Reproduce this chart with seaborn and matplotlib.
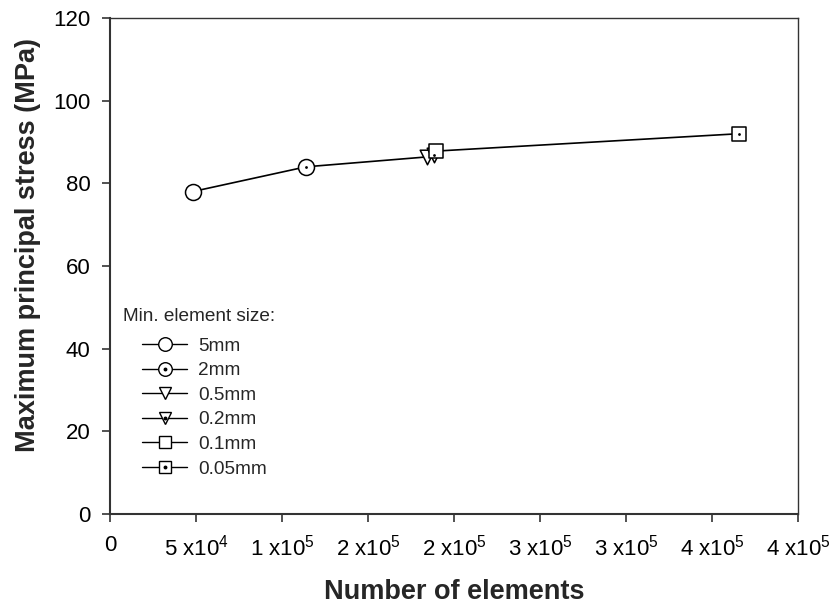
import matplotlib
matplotlib.use("Agg")
import matplotlib.pyplot as plt
from matplotlib.lines import Line2D
import seaborn as sns
import pandas as pd

# ---- data ----
sizes = ['5mm', '2mm', '0.5mm', '0.2mm', '0.1mm', '0.05mm']
n_elements = [48000, 114000, 184500, 188500, 189500, 365500]
max_stress = [78, 84, 86.4, 86.8, 87.8, 92]
markers = ['o', 'o', 'v', 'v', 's', 's']
dotted = [False, True, False, True, False, True]

x_ticks = [0, 50000, 100000, 150000, 200000, 250000, 300000, 350000, 400000]
x_tick_labels = ['0', r'5 x10$^{4}$', r'1 x10$^{5}$', r'2 x10$^{5}$', r'2 x10$^{5}$',
                 r'3 x10$^{5}$', r'3 x10$^{5}$', r'4 x10$^{5}$', r'4 x10$^{5}$']
y_ticks = [0, 20, 40, 60, 80, 100, 120]

df = pd.DataFrame({'size': sizes, 'n': n_elements, 'stress': max_stress})

sns.set_theme(style='white')
plt.rcParams['font.family'] = ['Liberation Sans', 'DejaVu Sans']
plt.rcParams['mathtext.fontset'] = 'custom'
plt.rcParams['mathtext.rm'] = 'Liberation Sans'
plt.rcParams['mathtext.it'] = 'Liberation Sans'
plt.rcParams['mathtext.bf'] = 'Liberation Sans:bold'

W, H = 831, 607
fig = plt.figure(figsize=(W / 100, H / 100), dpi=100)
ax = fig.add_axes([110 / W, 1 - 514 / H, (798 - 110) / W, (514 - 18) / H])

# connecting line
sns.lineplot(data=df, x='n', y='stress', sort=False, color='black', lw=1.2,
             ax=ax, zorder=2, estimator=None)

ms = {'o': 11.5, 'v': 10.5, 's': 10.0}
handles = []
for i, row in df.iterrows():
    m = markers[i]
    sns.scatterplot(x=[row['n']], y=[row['stress']], marker=m, s=ms[m] ** 2,
                    facecolor='white', edgecolor='black', linewidth=1.1,
                    ax=ax, zorder=3, legend=False)
    h_main = Line2D([], [], color='black', lw=1.0, marker=m, markersize=ms[m] * 0.85,
                    markerfacecolor='white', markeredgecolor='black', markeredgewidth=1.0)
    if dotted[i]:
        sns.scatterplot(x=[row['n']], y=[row['stress']], marker='o', s=4,
                        color='black', linewidth=0, ax=ax, zorder=4, legend=False)
        h_dot = Line2D([], [], ls='none', marker='o', markersize=1.8, color='black')
        handles.append((h_main, h_dot))
    else:
        handles.append(h_main)

ax.set_xlim(0, 400000)
ax.set_ylim(0, 120)
ax.set_xticks(x_ticks)
ax.set_xticklabels(x_tick_labels)
ax.set_yticks(y_ticks)
ax.tick_params(axis='both', which='major', direction='out', length=6, width=1.2,
               color='#333333', labelsize=16, labelcolor='black',
               bottom=True, left=True)
ax.tick_params(axis='y', pad=8)
ax.tick_params(axis='x', pad=9)

for side in ['left', 'bottom']:
    ax.spines[side].set_linewidth(1.5)
    ax.spines[side].set_color('#333333')
for side in ['top', 'right']:
    ax.spines[side].set_linewidth(1.0)
    ax.spines[side].set_color('#333333')
    ax.spines[side].set_visible(True)

ax.set_xlabel('Number of elements', fontsize=19.5, fontweight='bold')
ax.set_ylabel('Maximum principal stress (MPa)', fontsize=19.5, fontweight='bold')
ax.xaxis.set_label_coords(454 / W, 1 - 599 / H, transform=fig.transFigure)
ax.xaxis.label.set_va('baseline')
ax.yaxis.set_label_coords(35 / W, 1 - 245 / H, transform=fig.transFigure)
ax.yaxis.label.set_va('baseline')

# legend title and entries
fig.text(123 / W, 1 - 317 / H, 'Min. element size:', fontsize=13.7, va='center', ha='left')
leg = ax.legend(handles, sizes, loc='upper left',
                bbox_to_anchor=(142 / W, 1 - 337.5 / H), bbox_transform=fig.transFigure,
                frameon=False, fontsize=13.7, handlelength=2.37, handletextpad=0.58,
                labelspacing=0.38, borderpad=0, borderaxespad=0)

fig.savefig('out.png', dpi=100)
